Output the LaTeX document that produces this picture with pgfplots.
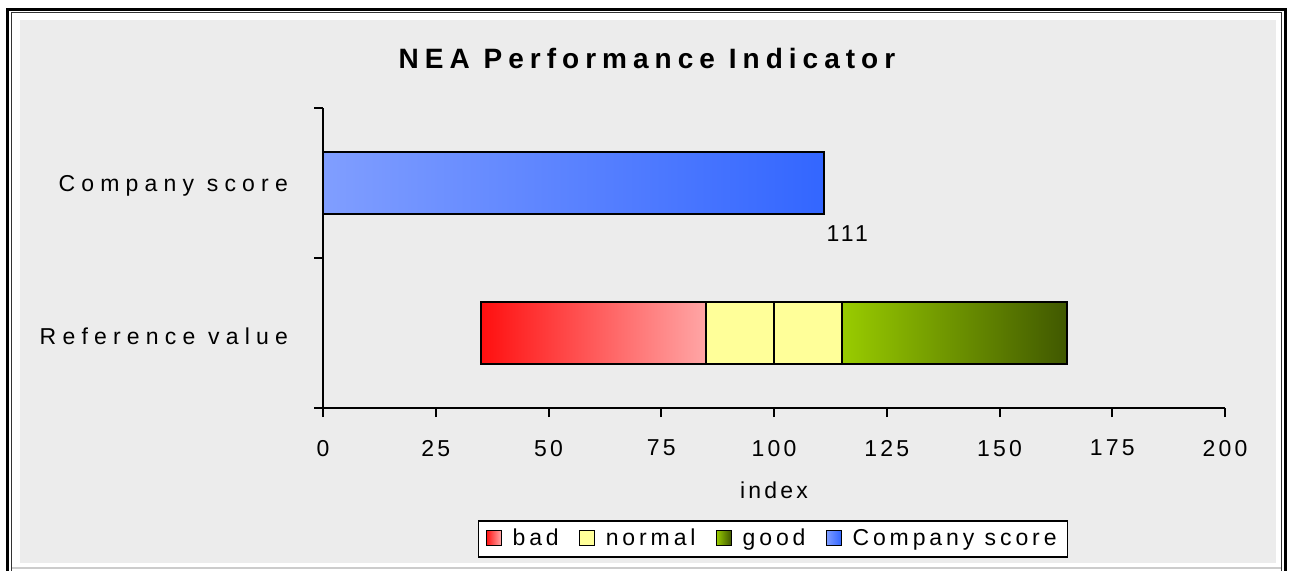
\documentclass[border=0pt]{standalone}
\usepackage{pgfplots}
\pgfplotsset{compat=1.18}
\usepackage{fontspec}
\setmainfont{Liberation Sans}[LetterSpace=27]
\newfontfamily\tickfont{Liberation Sans}[LetterSpace=14]
\newfontfamily\legfont{Liberation Sans}[LetterSpace=17]
\newfontfamily\titlefont{Liberation Sans}[LetterSpace=21.5]
\definecolor{bgc}{RGB}{236,236,236}
\definecolor{badL}{RGB}{255,15,15}
\definecolor{badR}{RGB}{255,166,166}
\definecolor{normc}{RGB}{255,255,153}
\definecolor{goodL}{RGB}{153,204,0}
\definecolor{goodR}{RGB}{64,88,0}
\definecolor{compL}{RGB}{128,158,255}
\definecolor{compR}{RGB}{51,102,255}
\begin{document}
\begin{tikzpicture}
\path[use as bounding box] (0,0) rectangle (647.5pt,-285.5pt);
\fill[white] (0,0) rectangle (647.5pt,-285.5pt);
\fill[bgc] (10pt,-10pt) rectangle (638pt,-281.5pt);
\draw[gray!40, line width=0.6pt] (6pt,-284pt) -- (641pt,-284pt);
\draw[black, line width=1.75pt] (3.75pt,-285.5pt) -- (3.75pt,-4.75pt) -- (642.75pt,-4.75pt) -- (642.75pt,-285.5pt);
\draw[black!80, line width=0.5pt] (5.5pt,-285.5pt) -- (5.5pt,-6.25pt) -- (640.75pt,-6.25pt) -- (640.75pt,-285.5pt);
\node[font=\titlefont\bfseries\fontsize{14}{16}\selectfont] at (323.5pt,-29pt) {NEA Performance Indicator};
\begin{axis}[
 at={(161.5pt,-204pt)}, anchor=south west,
 scale only axis, width=451pt, height=150pt,
 xbar stacked, bar width=31pt,
 xmin=0, xmax=200, ymin=-0.5, ymax=1.5,
 axis lines*=left,
 axis line style={line width=1pt},
 tick align=outside, major tick length=4.5pt,
 tick style={line width=1pt, black},
 xtick={0,25,...,200},
 ytick={-0.5,0.5,1.5}, yticklabels={},
 extra y ticks={0,1},
 extra y tick labels={Reference value,Company score},
 extra y tick style={major tick length=0pt, yticklabel style={xshift=-14pt, yshift=-1.5pt}},
 yticklabel style={font=\fontsize{11.5}{13}\selectfont},
 xticklabel style={font=\tickfont\fontsize{11.5}{13}\selectfont, yshift=-8pt},
 /pgf/number format/assume math mode=true,
 xlabel={index},
 xlabel style={at={(axis description cs:0.5,-0.273)}, anchor=center, font=\tickfont\fontsize{11.5}{13}\selectfont},
 legend columns=-1,
 legend style={at={(axis description cs:0.499,-0.437)}, anchor=center, draw=black, line width=0.8pt, fill=white,
   font=\legfont\fontsize{11.5}{13}\selectfont, inner xsep=3.5pt, inner ysep=2pt,
   /tikz/every odd column/.append style={column sep=3.5pt},
   /tikz/every even column/.append style={column sep=8pt}},
 legend image code/.code={\draw[#1, line width=0.5pt] (0pt,-3.2pt) rectangle (7.5pt,4.3pt);},
]
\addplot[draw=none, fill=none, forget plot] coordinates {(35,0) (0,1)};
\addplot[draw=black, line width=0.9pt, left color=badL, right color=badR] coordinates {(50,0) (0,1)};
\addlegendentry{bad}
\addplot[draw=black, line width=0.9pt, fill=normc] coordinates {(15,0) (0,1)};
\addlegendentry{normal}
\addplot[draw=black, line width=0.9pt, fill=normc, forget plot] coordinates {(15,0) (0,1)};
\addplot[draw=black, line width=0.9pt, left color=goodL, right color=goodR] coordinates {(50,0) (0,1)};
\addlegendentry{good}
\addplot[draw=black, line width=0.9pt, left color=compL, right color=compR,
  point meta=explicit symbolic, nodes near coords,
  every node near coord/.style={anchor=west, inner sep=0pt, xshift=126.2pt, yshift=-25.5pt, font=\tickfont\fontsize{11.5}{13}\selectfont, black}]
  coordinates {(0,0) [] (111,1) [111]};
\addlegendentry{Company score}
\end{axis}
\end{tikzpicture}
\end{document}
